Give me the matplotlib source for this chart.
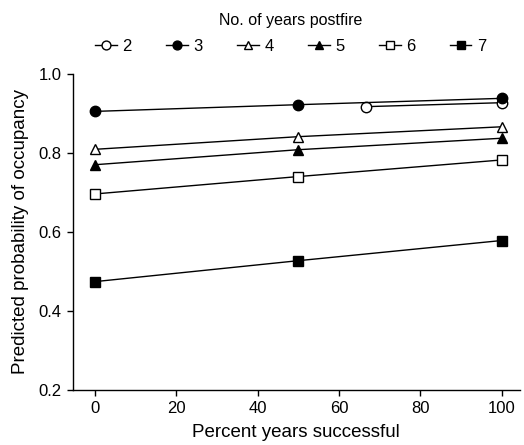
import matplotlib
matplotlib.use("Agg")
import matplotlib.pyplot as plt

plt.rcParams['font.family'] = ['Liberation Sans', 'DejaVu Sans']

pct = [0, 50, 100]
pct2 = [66.7, 100]
y2 = [0.917, 0.927]
y3 = [0.905, 0.922, 0.938]
y4 = [0.809, 0.841, 0.866]
y5 = [0.770, 0.808, 0.837]
y6 = [0.696, 0.740, 0.782]
y7 = [0.474, 0.527, 0.578]
labels = ['2', '3', '4', '5', '6', '7']

fig = plt.figure(figsize=(5.24, 4.45), dpi=100)
ax = fig.add_axes([0.139, 0.124, 0.853, 0.710])

ms = 7.5
common = dict(color='black', linewidth=1.0, markersize=ms, markeredgewidth=1.0,
              markeredgecolor='black')
h2, = ax.plot(pct2, y2, marker='o', markerfacecolor='white', label=labels[0], **common)
h3, = ax.plot(pct, y3, marker='o', markerfacecolor='black', label=labels[1], **common)
h4, = ax.plot(pct, y4, marker='^', markerfacecolor='white', label=labels[2], **common)
h5, = ax.plot(pct, y5, marker='^', markerfacecolor='black', label=labels[3], **common)
h6, = ax.plot(pct, y6, marker='s', markerfacecolor='white', label=labels[4], **common)
h7, = ax.plot(pct, y7, marker='s', markerfacecolor='black', label=labels[5], **common)

ax.set_xlim(-5.5, 104.5)
ax.set_ylim(0.2, 1.0)
ax.set_xticks([0, 20, 40, 60, 80, 100])
ax.set_yticks([0.2, 0.4, 0.6, 0.8, 1.0])
ax.set_yticklabels(['0.2', '0.4', '0.6', '0.8', '1.0'])
for s in ['top', 'right']:
    ax.spines[s].set_visible(False)
ax.spines['left'].set_linewidth(1.0)
ax.spines['bottom'].set_linewidth(1.0)
ax.tick_params(direction='out', length=4, width=1.0, labelsize=12, colors='black', pad=4)
ax.set_xlabel('Percent years successful', fontsize=13.5, labelpad=6)
ax.set_ylabel('Predicted probability of occupancy', fontsize=13.5, labelpad=7)

leg = fig.legend(handles=[h2, h3, h4, h5, h6, h7], loc='upper center',
                 bbox_to_anchor=(0.555, 1.005), ncol=6, frameon=False,
                 title='No. of years postfire', title_fontsize=11.5, fontsize=12,
                 handlelength=1.3, handletextpad=0.35, columnspacing=2.05,
                 markerscale=0.85)
leg._legend_box.sep = 8

fig.savefig('out.png', dpi=100)
